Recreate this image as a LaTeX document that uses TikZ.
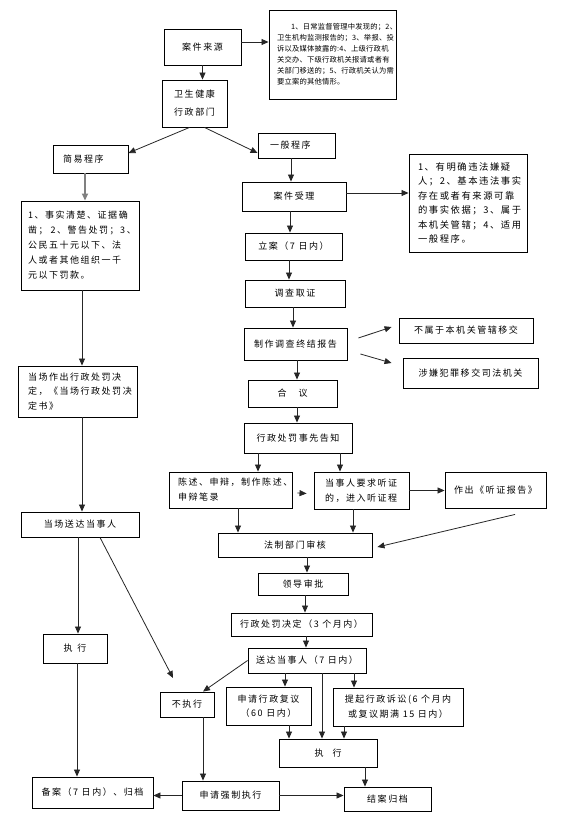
\documentclass[tikz,border=0pt]{standalone}
\usepackage{fontspec}
\newfontfamily\cjk[LetterSpace=17]{Noto Sans CJK SC}
\newfontfamily\cjksm[LetterSpace=3]{Noto Sans CJK SC}
\usetikzlibrary{arrows.meta}

\begin{document}
\begin{tikzpicture}[x=1pt,y=-1pt,
  bx/.style={draw,line width=0.9pt,inner sep=0pt,align=center,font=\cjk\fontsize{9}{15}\selectfont},
  arr/.style={draw=black!85,line width=0.8pt,-{Triangle[length=7pt,width=6pt]}}]
  \useasboundingbox (0,0) rectangle (560,822);
  \node[bx,minimum width=77pt,minimum height=36pt] (src) at (202.5,47) {案件来源};
  \node[bx,minimum width=127pt,minimum height=89pt,text width=111pt,align=left,font=\cjksm\fontsize{7.3}{11}\selectfont] (srclist) at (332.5,54.5) {\hspace*{14pt}1、日常监督管理中发现的；2、\\卫生机构监测报告的；3、举报、投\\诉以及媒体披露的:4、上级行政机\\关交办、下级行政机关报请或者有\\关部门移送的；5、行政机关认为需\\要立案的其他情形。};
  \node[bx,minimum width=65pt,minimum height=47pt,font=\cjk\fontsize{9}{18}\selectfont] (wsj) at (194.5,103.5) {卫生健康\\行政部门};
  \node[bx,minimum width=75pt,minimum height=28pt,text width=55pt,align=left] (jy) at (90.5,159) {简易程序};
  \node[bx,minimum width=77pt,minimum height=25pt,text width=53pt,align=left] (yb) at (296.5,145.5) {一般程序};
  \node[bx,minimum width=118pt,minimum height=89pt,text width=104pt,align=left] (jylist) at (80,245.5) {1、事实清楚、证据确\\\mbox{凿； 2、警告处罚；3、}\\公民五十元以下、法\\人或者其他组织一千\\元以下罚款。};
  \node[bx,minimum width=104pt,minimum height=29pt] (sl) at (294,196.5) {案件受理};
  \node[bx,minimum width=118pt,minimum height=98pt,text width=100pt,align=left,font=\cjk\fontsize{9.3}{14.5}\selectfont] (sllist) at (468,203) {1、有明确违法嫌疑\\人；2、基本违法事实\\存在或者有来源可靠\\的事实依据；3、属于\\本机关管辖；4、适用\\一般程序。};
  \node[bx,minimum width=97pt,minimum height=27pt] (la) at (293.5,246.5) {立案（7 日内）};
  \node[bx,minimum width=100pt,minimum height=27pt] (dc) at (295,293.5) {调查取证};
  \node[bx,minimum width=103pt,minimum height=32pt] (zz) at (295.5,344) {制作调查终结报告};
  \node[bx,minimum width=134pt,minimum height=25pt] (bs) at (466,330.5) {不属于本机关管辖移交};
  \node[bx,minimum width=135pt,minimum height=30pt] (sx) at (470.5,373) {涉嫌犯罪移交司法机关};
  \node[bx,minimum width=89pt,minimum height=27pt] (hy) at (292.5,393.5) {合\hspace{12pt}议};
  \node[bx,minimum width=108pt,minimum height=30pt] (gz) at (298,438) {行政处罚事先告知};
  \node[bx,minimum width=119pt,minimum height=51pt,text width=99pt,align=left,font=\cjk\fontsize{9}{14.5}\selectfont] (dczc) at (77.5,391.5) {当场作出行政处罚决\\定，《当场行政处罚决\\定书》};
  \node[bx,minimum width=118pt,minimum height=25pt] (dcsd) at (80,524.5) {当场送达当事人};
  \node[bx,minimum width=123pt,minimum height=36pt,text width=105pt,align=left] (cs) at (230.5,490) {陈述、申辩，制作陈述、\\申辩笔录};
  \node[bx,minimum width=95pt,minimum height=37pt,text width=73pt,align=left] (tz) at (361.5,490.5) {当事人要求听证\\的，进入听证程};
  \node[bx,minimum width=101pt,minimum height=36pt] (bg) at (495.5,490) {作出《听证报告》};
  \node[bx,minimum width=154pt,minimum height=24pt] (fz) at (295,545) {法制部门审核};
  \node[bx,minimum width=90pt,minimum height=22pt] (ld) at (303,584) {领导审批};
  \node[bx,minimum width=141pt,minimum height=23pt] (jd) at (301.5,624.5) {行政处罚决定（3 个月内）};
  \node[bx,minimum width=118pt,minimum height=25pt] (sd) at (307,660.5) {送达当事人（7 日内）};
  \node[bx,minimum width=64pt,minimum height=29pt] (zxa) at (75,648.5) {执\hspace{5pt}行};
  \node[bx,minimum width=54pt,minimum height=25pt] (bzx) at (187,704.5) {不执行};
  \node[bx,minimum width=85pt,minimum height=38pt,font=\cjk\fontsize{9}{14}\selectfont] (fy) at (268.5,706) {申请行政复议\\（60 日内）};
  \node[bx,minimum width=130pt,minimum height=38pt] (ss) at (398,707) {提起行政诉讼(6 个月内\\或复议期满 15 日内）};
  \node[bx,minimum width=98pt,minimum height=28pt] (zxb) at (328,753) {执\hspace{9pt}行};
  \node[bx,minimum width=121pt,minimum height=31pt] (ba) at (92.5,792.5) {备案（7 日内）、归档};
  \node[bx,minimum width=97pt,minimum height=29pt] (qz) at (230.5,795.5) {申请强制执行};
  \node[bx,minimum width=87pt,minimum height=24pt] (ja) at (387.5,799) {结案归档};
  \coordinate (nz) at (173,678);

  \draw[arr] ([yshift=5pt]src.east) -- ([yshift=5pt]src.east -| srclist.west);
  \draw[arr] (src.south) -- (src.south |- wsj.north);
  \draw[arr] ([xshift=-5pt]wsj.south) -- ([yshift=6pt]jy.east);
  \draw[arr] ([xshift=10pt]wsj.south) -- ([yshift=-7.5pt]yb.west);
  \draw[arr,draw=gray,line width=1.6pt] ([xshift=-5.5pt]jy.south) -- ([xshift=-5.5pt]jy.south |- jylist.north);
  \draw[arr] ([xshift=2pt]jylist.south) -- ([xshift=2pt]jylist.south |- dczc.north);
  \draw[arr] ([xshift=4.5pt]dczc.south) -- ([xshift=4.5pt]dczc.south |- dcsd.north);
  \draw[arr] ([xshift=-2pt]dcsd.south) -- ([xshift=-2pt]dcsd.south |- zxa.north);
  \draw[arr] ([xshift=20pt]dcsd.south) -- (nz);
  \draw[arr] ([xshift=2pt]zxa.south) -- ([xshift=2pt]zxa.south |- ba.north);
  \draw[arr] ([xshift=-5.5pt]yb.south) -- ([xshift=-5.5pt]yb.south |- sl.north);
  \draw[arr] ([yshift=3.5pt]sl.east) -- ([yshift=3.5pt]sl.east -| sllist.west);
  \draw[arr] ([xshift=-4pt]sl.south) -- ([xshift=-4pt]sl.south |- la.north);
  \draw[arr] ([xshift=-4.5pt]la.south) -- ([xshift=-4.5pt]la.south |- dc.north);
  \draw[arr] ([xshift=-2pt]dc.south) -- ([xshift=-2pt]dc.south |- zz.north);
  \draw[arr] ([xshift=11pt,yshift=6pt]zz.east) -- ([xshift=-7pt,yshift=3.5pt]bs.west);
  \draw[arr] ([xshift=13pt,yshift=-10pt]zz.east) -- ([xshift=-11pt,yshift=10pt]sx.west);
  \draw[arr] ([xshift=1.5pt]zz.south) -- ([xshift=1.5pt]zz.south |- hy.north);
  \draw[arr] ([xshift=4.5pt]hy.south) -- ([xshift=4.5pt]hy.south |- gz.north);
  \draw[arr] ([xshift=-40pt]gz.south) -- ([xshift=-40pt]gz.south |- cs.north);
  \draw[arr] ([xshift=42pt]gz.south) -- ([xshift=42pt]gz.south |- tz.north);
  \draw[arr] ([xshift=5pt,yshift=-3pt]cs.east) -- ([xshift=-7pt,yshift=-3pt]tz.west);
  \draw[arr] (tz.east) -- (tz.east -| bg.west);
  \draw[arr] ([xshift=7.5pt]cs.south) -- ([xshift=7.5pt]cs.south |- fz.north);
  \draw[arr] ([xshift=-8.5pt]tz.south) -- ([xshift=-8.5pt]tz.south |- fz.north);
  \draw[arr] ([xshift=19.5pt,yshift=-6pt]bg.south) -- ([xshift=5pt,yshift=-2pt]fz.east);
  \draw[arr] ([xshift=12pt]fz.south) -- ([xshift=12pt]fz.south |- ld.north);
  \draw[arr] ([xshift=2pt]ld.south) -- ([xshift=2pt]ld.south |- jd.north);
  \draw[arr] ([xshift=4.5pt]jd.south) -- ([xshift=4.5pt]jd.south |- sd.north);
  \draw[arr] (sd.west) -- ([xshift=16pt]bzx.north);
  \draw[arr] ([xshift=16.5pt]fy.north |- sd.south) -- ([xshift=16.5pt]fy.north);
  \draw[arr] ([xshift=-6pt]zxb.north |- sd.south) -- ([xshift=-6pt]zxb.north);
  \draw[arr] ([xshift=-44pt]ss.north |- sd.south) -- ([xshift=-44pt]ss.north);
  \draw[arr] ([xshift=20.5pt]fy.south) -- ([xshift=20.5pt]fy.south |- zxb.north);
  \draw[arr] ([xshift=-54pt]ss.south) -- ([xshift=-54pt]ss.south |- zxb.north);
  \draw[arr] ([xshift=37pt]zxb.south) -- ([xshift=37pt]zxb.south |- ja.north);
  \draw[arr] ([xshift=16pt]bzx.south) -- ([xshift=16pt]bzx.south |- qz.north);
  \draw[arr] (qz.west) -- (qz.west -| ba.east);
  \draw[arr] (qz.east) -- (qz.east -| ja.west);
\end{tikzpicture}
\end{document}
